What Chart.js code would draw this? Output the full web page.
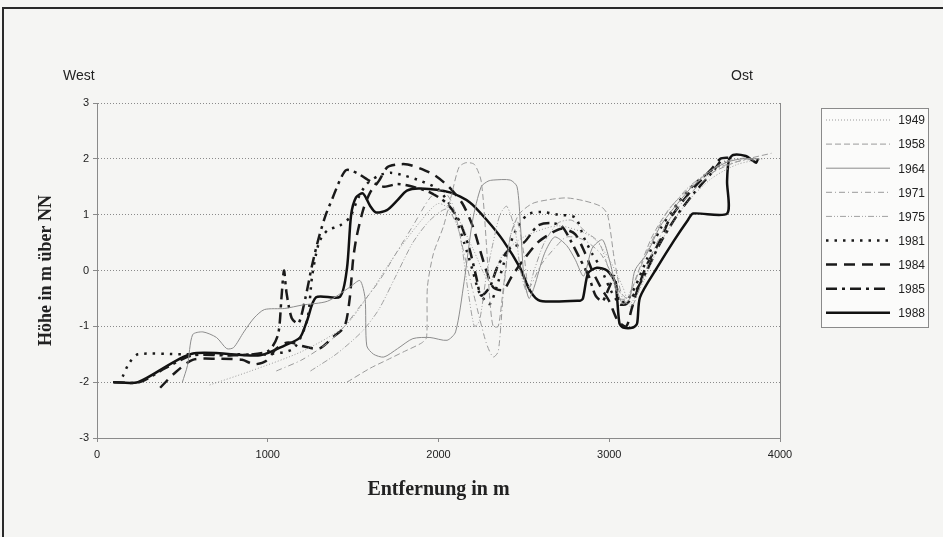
<!DOCTYPE html>
<html>
<head>
<meta charset="utf-8">
<script src="https://cdn.jsdelivr.net/npm/chart.js@4.4.1/dist/chart.umd.min.js"></script>
<style>
  html, body { margin: 0; padding: 0; background: #f5f5f3; overflow: hidden; }
  #frame { position: absolute; left: 2px; top: 7px; width: 980px; height: 580px; border: 2px solid #2a2a2a; }
  #wrap { position: absolute; left: 0; top: 0; width: 943px; height: 537px; }
</style>
</head>
<body>
<div id="frame"></div>
<div id="wrap"><canvas id="profil" width="943" height="537"></canvas></div>
<script>
// Querprofile, Entfernung (m) / Höhe (m über NN)
const years = ['1949', '1958', '1964', '1971', '1975', '1981', '1984', '1985', '1988'];

const p1949 = [[660,-2.05],[900,-1.8],[1200,-1.45],[1450,-1.0],[1600,-0.4],[1750,0.3],[1900,0.9],[2000,1.2],[2100,1.0],[2200,0.4],[2300,-0.2],[2380,0.3],[2500,0.6],[2700,0.8],[2900,0.6],[3000,0.2],[3080,-0.3],[3120,-0.6],[3200,-0.2],[3300,0.5],[3450,1.2],[3600,1.65],[3750,1.9],[3900,2.0]];
const p1958 = [[1464,-2.0],[1600,-1.75],[1700,-1.6],[1800,-1.45],[1900,-1.3],[1930,-1.2],[1935,-0.3],[1970,0.3],[2030,0.8],[2080,1.4],[2120,1.85],[2160,1.93],[2210,1.9],[2250,1.6],[2280,0.5],[2300,-0.5],[2320,-1.0],[2350,-1.0],[2380,-0.3],[2420,0.6],[2470,1.0],[2550,1.2],[2650,1.27],[2750,1.3],[2850,1.25],[2950,1.15],[2990,1.0],[3030,0.2],[3070,-0.4],[3110,-0.5],[3160,-0.1],[3250,0.6],[3350,1.1],[3480,1.5],[3600,1.75],[3750,1.95],[3950,2.1]];
const p1964 = [[500,-2.0],[530,-1.7],[560,-1.15],[620,-1.1],[700,-1.2],[760,-1.4],[800,-1.38],[860,-1.1],[920,-0.85],[980,-0.7],[1100,-0.68],[1200,-0.62],[1350,-0.55],[1480,-0.3],[1540,-0.18],[1570,-0.5],[1580,-1.35],[1620,-1.5],[1680,-1.55],[1760,-1.4],[1850,-1.22],[1950,-1.2],[2050,-1.25],[2100,-1.1],[2150,-0.2],[2200,0.9],[2250,1.5],[2290,1.6],[2320,1.62],[2420,1.62],[2460,1.5],[2480,0.8],[2500,-0.1],[2530,-0.5],[2560,-0.3],[2620,0.3],[2680,0.6],[2750,0.45],[2800,0.2],[2850,-0.1],[2900,0.4],[2960,0.55],[3000,0.2],[3040,-0.3],[3080,-0.6],[3120,-0.5],[3150,0.0],[3220,0.3],[3300,0.8],[3400,1.2],[3500,1.55],[3600,1.8],[3700,1.95],[3780,2.0],[3880,2.0]];
const p1971 = [[1050,-1.8],[1200,-1.6],[1350,-1.3],[1450,-1.0],[1550,-0.6],[1650,-0.2],[1750,0.3],[1850,0.8],[1950,1.3],[2020,1.45],[2080,1.2],[2150,0.3],[2220,-0.6],[2280,-1.3],[2320,-1.55],[2350,-1.45],[2380,-0.4],[2420,0.6],[2460,0.9],[2500,0.3],[2530,-0.3],[2600,0.1],[2680,0.4],[2750,0.6],[2850,0.55],[2950,0.3],[3020,-0.1],[3080,-0.5],[3130,-0.65],[3180,-0.3],[3250,0.3],[3350,0.9],[3450,1.3],[3550,1.6],[3650,1.85],[3750,1.95],[3850,2.0]];
const p1975 = [[1250,-1.8],[1400,-1.5],[1550,-1.1],[1650,-0.7],[1750,-0.1],[1850,0.5],[1950,0.9],[2050,1.1],[2120,0.7],[2170,-0.3],[2210,-1.0],[2240,-0.9],[2280,-0.1],[2320,0.5],[2360,1.0],[2400,1.15],[2450,0.7],[2480,0.0],[2520,-0.4],[2560,0.0],[2620,0.5],[2700,0.85],[2780,0.9],[2860,0.7],[2940,0.5],[3000,0.0],[3060,-0.5],[3100,-0.5],[3150,-0.2],[3230,0.4],[3330,1.0],[3450,1.45],[3550,1.7],[3680,1.95],[3800,2.02]];
const p1981 = [[150,-1.9],[190,-1.65],[240,-1.5],[500,-1.5],[800,-1.5],[1000,-1.5],[1150,-1.4],[1230,-0.9],[1260,-0.1],[1300,0.5],[1350,0.72],[1420,0.8],[1480,0.95],[1530,1.3],[1580,1.55],[1650,1.7],[1720,1.75],[1800,1.7],[1900,1.6],[2000,1.45],[2080,1.1],[2150,0.5],[2200,0.0],[2240,-0.4],[2300,-0.6],[2350,-0.2],[2400,0.3],[2450,0.7],[2520,1.0],[2600,1.05],[2700,1.0],[2800,0.95],[2850,0.6],[2900,0.3],[2950,0.05],[3000,-0.3],[3050,-0.55],[3100,-0.55],[3150,-0.3],[3220,0.2],[3300,0.75],[3400,1.2],[3500,1.55],[3600,1.8],[3680,1.95]];
const p1984 = [[370,-2.1],[450,-1.85],[560,-1.6],[700,-1.58],[850,-1.6],[920,-1.68],[990,-1.62],[1050,-1.4],[1100,-1.3],[1150,-1.3],[1200,-1.35],[1300,-1.4],[1380,-1.2],[1450,-1.0],[1480,-0.5],[1500,0.2],[1520,0.6],[1560,1.1],[1600,1.4],[1650,1.6],[1700,1.85],[1760,1.9],[1820,1.9],[1900,1.82],[1980,1.7],[2060,1.5],[2140,1.2],[2200,0.8],[2240,0.4],[2280,0.0],[2320,-0.3],[2380,-0.35],[2430,-0.1],[2500,0.2],[2580,0.5],[2650,0.65],[2720,0.75],[2800,0.65],[2860,0.3],[2900,0.0],[2950,-0.3],[3000,-0.55],[3050,-0.9],[3100,-1.0],[3130,-0.7],[3170,-0.3],[3220,0.1],[3300,0.55],[3350,0.9],[3420,1.2],[3500,1.5],[3600,1.82],[3650,2.0],[3700,2.02]];
const p1985 = [[100,-2.0],[250,-2.0],[400,-1.75],[560,-1.52],[800,-1.52],[1000,-1.45],[1060,-1.15],[1080,-0.5],[1095,0.0],[1110,-0.4],[1140,-0.85],[1180,-0.95],[1220,-0.5],[1260,0.1],[1300,0.6],[1340,1.0],[1380,1.3],[1420,1.6],[1460,1.8],[1520,1.75],[1600,1.6],[1680,1.5],[1760,1.55],[1850,1.5],[1950,1.4],[2050,1.2],[2120,0.9],[2180,0.4],[2220,-0.1],[2250,-0.45],[2300,-0.3],[2350,0.1],[2420,0.4],[2500,0.5],[2580,0.8],[2650,0.85],[2720,0.8],[2780,0.5],[2830,0.2],[2880,-0.1],[2920,-0.45],[2960,-0.55],[3000,-0.3],[3030,-0.1],[3060,-0.6],[3100,-0.6],[3150,-0.4],[3220,0.0],[3300,0.5],[3400,1.0],[3500,1.4],[3600,1.75],[3650,1.95]];
const p1988 = [[94,-2.0],[240,-2.0],[556,-1.49],[955,-1.52],[1101,-1.34],[1189,-1.2],[1230,-0.9],[1283,-0.48],[1423,-0.47],[1464,0.04],[1488,0.99],[1517,1.31],[1558,1.38],[1599,1.16],[1634,1.04],[1698,1.08],[1757,1.25],[1815,1.43],[1892,1.47],[2067,1.40],[2184,1.22],[2284,0.9],[2378,0.54],[2477,0.05],[2536,-0.36],[2594,-0.54],[2829,-0.54],[2846,-0.5],[2876,-0.05],[2928,0.05],[2987,0.0],[3034,-0.2],[3046,-0.5],[3060,-0.95],[3081,-1.02],[3140,-1.02],[3163,-0.95],[3180,-0.48],[3280,0.05],[3380,0.54],[3460,0.9],[3491,1.02],[3690,1.02],[3690,1.6],[3700,1.97],[3725,2.07],[3800,2.05],[3840,1.97],[3860,1.93],[3871,2.0]];

const profiles = [p1949, p1958, p1964, p1971, p1975, p1981, p1984, p1985, p1988];

const xTicks = [0, 1000, 2000, 3000, 4000];
const yTicks = [-3, -2, -1, 0, 1, 2, 3];

// line styles per survey year (Excel b/w look)
const lineStyles = [
  { color: '#9a9a9a', width: 1,   dash: [1, 2] },
  { color: '#9a9a9a', width: 1,   dash: [6, 3] },
  { color: '#8c8c8c', width: 1,   dash: [] },
  { color: '#9a9a9a', width: 1,   dash: [6, 3, 1, 3] },
  { color: '#a0a0a0', width: 1,   dash: [6, 2, 1, 2, 1, 2] },
  { color: '#1a1a1a', width: 2.5, dash: [2.5, 6] },
  { color: '#1a1a1a', width: 2.5, dash: [11, 7] },
  { color: '#1a1a1a', width: 2.5, dash: [11, 5, 3, 5] },
  { color: '#111111', width: 2.5, dash: [] }
];

const datasets = years.map((yr, i) => ({
  label: yr,
  data: profiles[i].map(p => ({ x: p[0], y: p[1] })),
  borderColor: lineStyles[i].color,
  borderWidth: lineStyles[i].width,
  borderDash: lineStyles[i].dash,
  pointRadius: 0,
  tension: 0.25,
  fill: false
}));

// texts, frame of plot area and the boxed legend
const decorations = {
  id: 'decorations',
  afterDraw(chart) {
    const ctx = chart.ctx;
    const a = chart.chartArea;
    ctx.save();

    ctx.strokeStyle = '#8a8a8a';
    ctx.lineWidth = 1;
    ctx.beginPath();
    ctx.moveTo(a.right + 0.5, a.top);
    ctx.lineTo(a.right + 0.5, a.bottom);
    ctx.stroke();

    ctx.fillStyle = '#222';
    ctx.font = '14px "Liberation Sans", Arial, sans-serif';
    ctx.textBaseline = 'middle';
    ctx.textAlign = 'left';
    ctx.fillText('West', 63, 76);
    ctx.fillText('Ost', 731, 76);

    ctx.font = 'bold 20px "Liberation Serif", "Times New Roman", serif';
    ctx.textAlign = 'center';
    ctx.fillText('Entfernung in m', (a.left + a.right) / 2, 490);

    ctx.save();
    ctx.translate(46, (a.top + a.bottom) / 2);
    ctx.rotate(-Math.PI / 2);
    ctx.font = 'bold 18px "Liberation Serif", "Times New Roman", serif';
    ctx.fillText('Höhe in m über NN', 0, 0);
    ctx.restore();

    // legend box
    const lx = 821, ly = 108, lw = 107, lh = 219;
    ctx.fillStyle = '#fbfbfa';
    ctx.fillRect(lx, ly, lw, lh);
    ctx.strokeStyle = '#8a8a8a';
    ctx.lineWidth = 1;
    ctx.setLineDash([]);
    ctx.strokeRect(lx + 0.5, ly + 0.5, lw, lh);

    ctx.font = '12px "Liberation Sans", Arial, sans-serif';
    chart.data.datasets.forEach((ds, i) => {
      const y = 120 + i * 24.1;
      ctx.strokeStyle = ds.borderColor;
      ctx.lineWidth = ds.borderWidth;
      ctx.setLineDash(ds.borderDash);
      ctx.beginPath();
      ctx.moveTo(826, y);
      ctx.lineTo(890, y);
      ctx.stroke();
      ctx.setLineDash([]);
      ctx.fillStyle = '#222';
      ctx.textAlign = 'right';
      ctx.fillText(ds.label, 925, y + 1);
    });
    ctx.restore();
  }
};

new Chart(document.getElementById('profil'), {
  type: 'line',
  data: { datasets },
  plugins: [decorations],
  options: {
    responsive: false,
    animation: false,
    layout: { padding: { left: 0, right: 163, top: 103, bottom: 0 } },
    plugins: {
      legend: { display: false },
      tooltip: { enabled: false }
    },
    scales: {
      x: {
        type: 'linear',
        min: 0,
        max: 4000,
        afterBuildTicks: s => { s.ticks = xTicks.map(v => ({ value: v })); },
        afterFit: s => { s.height = 99; },
        border: { color: '#8a8a8a', width: 1 },
        grid: { drawOnChartArea: false, drawTicks: true, tickLength: 4, color: '#8a8a8a' },
        ticks: {
          color: '#222', padding: 6, maxRotation: 0,
          font: { family: 'Liberation Sans', size: 11 },
          callback: v => String(v)
        }
      },
      y: {
        min: -3,
        max: 3,
        afterBuildTicks: s => { s.ticks = yTicks.map(v => ({ value: v })); },
        afterFit: s => { s.width = 97; },
        border: { color: '#8a8a8a', width: 1, dash: [1, 2] },
        grid: { color: '#8a8a8a', lineWidth: 1, drawTicks: true, tickLength: 4, tickColor: '#8a8a8a' },
        ticks: { color: '#222', padding: 4, font: { family: 'Liberation Sans', size: 11 } }
      }
    }
  }
});
</script>
</body>
</html>
